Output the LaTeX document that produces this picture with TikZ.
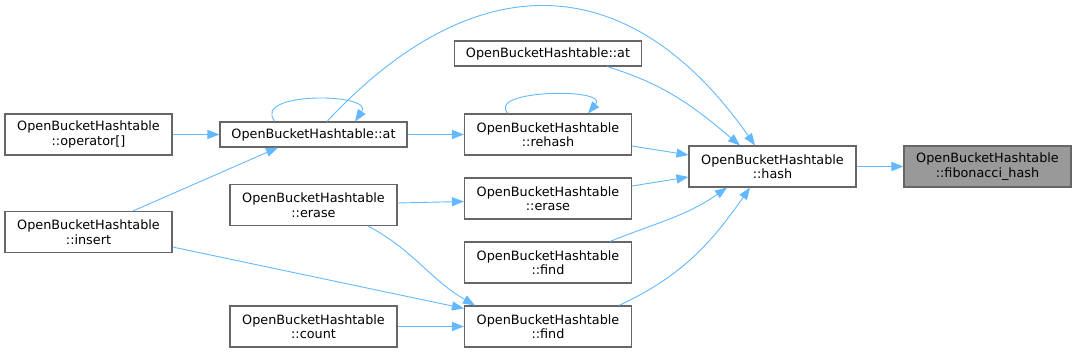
\documentclass[tikz,border=0pt]{standalone}
\usepackage{fontspec}
\setmainfont{DejaVu Sans}
\usepackage{tikz}
\usetikzlibrary{arrows.meta}
\definecolor{edgeblue}{HTML}{63B8FF}
\definecolor{boxline}{HTML}{666666}
\definecolor{calleegray}{HTML}{999999}

\begin{document}
\begin{tikzpicture}[
    x=1pt, y=-1pt,
    fnbox/.style={
      draw=boxline, line width=1.1pt, fill=white,
      font=\fontsize{12.8}{14.5}\selectfont, align=center,
      minimum width=167pt, minimum height=41pt, inner sep=0pt,
    },
    onebox/.style={fnbox, minimum width=187pt, minimum height=25pt},
    callee/.style={fnbox, fill=calleegray},
    calls/.style={
      -{Triangle[length=12pt,width=9pt]}, draw=edgeblue, line width=0.9pt,
    },
  ]
  \useasboundingbox (0,0) rectangle (1076,352);

  % =================== Callers, left column ===================
  \node[fnbox] (opidx) at (88.5,134.5) {OpenBucketHashtable\\::operator[]};
  \node[fnbox] (insert) at (88.5,232) {OpenBucketHashtable\\::insert};

  % =================== Second column ===================
  \node[onebox] (at1) at (313.5,134.5) {OpenBucketHashtable::at};
  \node[fnbox] (erase1) at (313.5,205) {OpenBucketHashtable\\::erase};
  \node[fnbox] (count) at (313.5,326.5) {OpenBucketHashtable\\::count};

  % =================== Third column ===================
  \node[onebox] (at2) at (548,53.5) {OpenBucketHashtable::at};
  \node[fnbox] (rehash) at (548,134.5) {OpenBucketHashtable\\::rehash};
  \node[fnbox] (erase2) at (548,198.5) {OpenBucketHashtable\\::erase};
  \node[fnbox] (find1) at (548,262.5) {OpenBucketHashtable\\::find};
  \node[fnbox] (find2) at (548,326.5) {OpenBucketHashtable\\::find};

  % =================== hash and fibonacci_hash ===================
  \node[fnbox] (hash) at (772.5,166.5) {OpenBucketHashtable\\::hash};
  \node[callee] (fib) at (987.5,166.5) {OpenBucketHashtable\\::fibonacci\_hash};

  \draw[calls] (hash) -- (fib);

  % Into hash
  \draw[calls] ([xshift=13.5pt]at1.north) to[out=47, in=125, looseness=1.3] ([xshift=-17.5pt]hash.north);
  \draw[calls] ([xshift=59pt]at2.south) to[out=-17, in=140] ([xshift=-32.5pt]hash.north);
  \draw[calls] ([yshift=-11.5pt]rehash.east) -- ([yshift=11.5pt]hash.west);
  \draw[calls] ([yshift=12.5pt]erase2.east) -- ([yshift=-10.5pt]hash.west);
  \draw[calls] ([xshift=62pt]find1.north) to[out=22, in=-145] ([xshift=-45.5pt]hash.south);
  \draw[calls] ([xshift=71pt]find2.north) to[out=25, in=-125] ([xshift=-22.5pt]hash.south);

  % Self loops
  \draw[calls] ([xshift=-38.5pt]at1.north) .. controls +(-25,-30) and +(20,-29) .. ([xshift=41.5pt]at1.north);
  \draw[calls] ([xshift=-40pt]rehash.north) .. controls +(-23,-24) and +(22,-26) .. ([xshift=40pt]rehash.north);

  % Left side calls
  \draw[calls] (opidx) -- (at1);
  \draw[calls] ([xshift=44.5pt]insert.north) -- ([xshift=-35.5pt]at1.south);
  \draw[calls] (at1) -- (rehash);
  \draw[calls] ([yshift=2pt]erase1.east) -- ([yshift=-3pt]erase2.west);
  \draw[calls] ([yshift=-15pt]insert.east) -- ([yshift=-3pt]find2.north west);
  \draw[calls] ([xshift=54.5pt]erase1.south) to[out=-28, in=150] ([xshift=-73pt]find2.north);
  \draw[calls] (count) -- (find2);

\end{tikzpicture}
\end{document}
